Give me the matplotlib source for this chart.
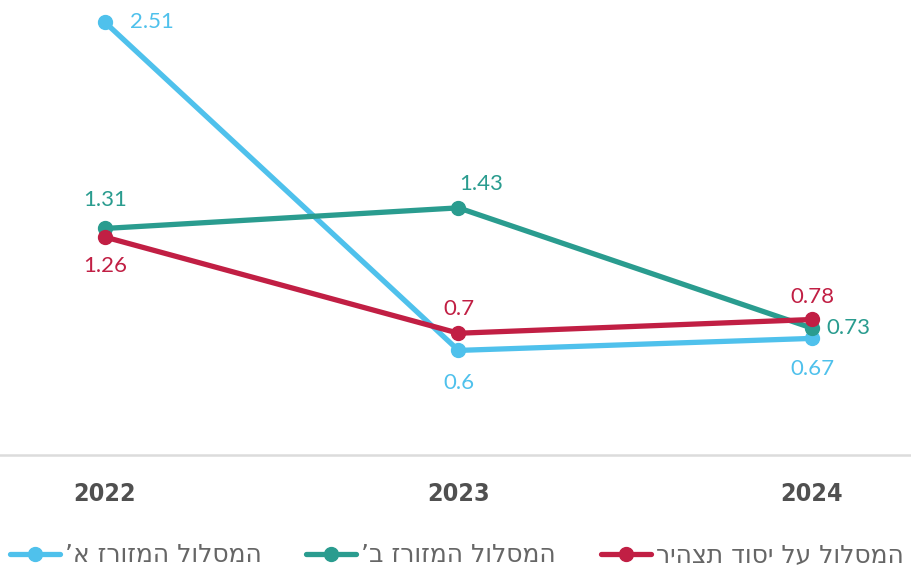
import matplotlib
matplotlib.use("Agg")
import matplotlib.pyplot as plt
from matplotlib.lines import Line2D

years = [2022, 2023, 2024]
series_names = ["המסלול המזורז א’", "המסלול המזורז ב’", "המסלול על יסוד תצהיר"]
blue_vals = [2.51, 0.6, 0.67]
teal_vals = [1.31, 1.43, 0.73]
red_vals = [1.26, 0.7, 0.78]
colors = ["#4fc1ec", "#2a9c8f", "#c11f44"]

def rtl(s):
    return s[::-1]

fig = plt.figure(figsize=(9.12, 5.69), dpi=100)
ax = fig.add_axes([0, 0.2, 1, 0.8])

series = [blue_vals, teal_vals, red_vals]
handles = []
for vals, c, name in zip(series, colors, series_names):
    ax.plot(years, vals, color=c, lw=3.8, marker="o", ms=10,
            solid_capstyle="round", zorder=3)
    handles.append(Line2D([], [], color=c, lw=3.8, marker="o", ms=10,
                          markevery=[1], solid_capstyle="round"))

lab_font = dict(family=["Lato", "DejaVu Sans"], fontsize=16, fontweight="normal")
offsets = {
    (0, 0): (18, 0, "left", "center"),
    (0, 1): (0, -16, "center", "top"),
    (0, 2): (0, -15, "center", "top"),
    (1, 0): (0, 13, "center", "bottom"),
    (1, 1): (16, 10, "center", "bottom"),
    (1, 2): (10, 0, "left", "center"),
    (2, 0): (0, -14, "center", "top"),
    (2, 1): (0, 10, "center", "bottom"),
    (2, 2): (0, 9, "center", "bottom"),
}
for si, vals in enumerate(series):
    for pi, v in enumerate(vals):
        dx, dy, ha, va = offsets[(si, pi)]
        ax.annotate(f"{v:g}", (years[pi], v), xytext=(dx, dy),
                    textcoords="offset points", ha=ha, va=va,
                    color=colors[si], **lab_font)

ax.set_xlim(2022 - 105 / 353.5, 2024 + 100 / 353.5)
ax.set_ylim(-0.01, 2.64)
ax.set_xticks(years)
ax.set_xticklabels([str(y) for y in years])
for t in ax.get_xticklabels():
    t.set_fontfamily(["DejaVu Sans"])
    t.set_fontstretch("condensed")
    t.set_fontweight("bold")
    t.set_fontsize(18)
    t.set_color("#505050")
ax.tick_params(axis="x", length=0, pad=19)
ax.set_yticks([])
for s in ["top", "left", "right"]:
    ax.spines[s].set_visible(False)
ax.spines["bottom"].set_color("#dcdcdc")
ax.spines["bottom"].set_linewidth(1.8)
ax.patch.set_visible(False)

leg = fig.legend(handles, [rtl(n) for n in series_names], ncol=3,
                 loc="center left", bbox_to_anchor=(0.005, 0.024),
                 frameon=False, handlelength=2.0, handletextpad=0.2,
                 columnspacing=1.8, borderaxespad=0, borderpad=0.2,
                 prop=dict(family=["DejaVu Sans"], size=18))
for t in leg.get_texts():
    t.set_color("#666666")

fig.savefig("out.png", dpi=100)
